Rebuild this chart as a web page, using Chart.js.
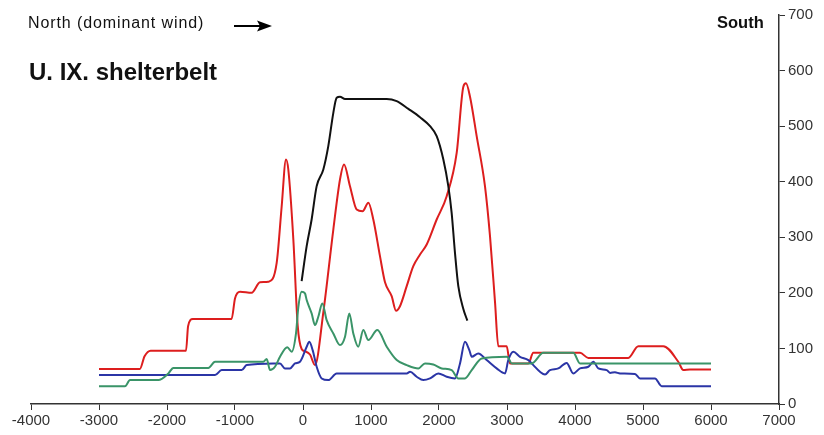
<!DOCTYPE html>
<html>
<head>
<meta charset="utf-8">
<script src="https://cdn.jsdelivr.net/npm/chart.js@4/dist/chart.umd.min.js"></script>
<style>
  html, body { margin: 0; padding: 0; background: #fff; }
</style>
</head>
<body>
<canvas id="chart" width="824" height="435"></canvas>
<script>
// distance (m) and values, one pair of arrays per curve
const redX = [-3000, -2400, -2330, -2240, -1720, -1690, -1620, -1050, -1000, -926, -755, -632, -510, -387, -314, -250, -216, -142, -78, -20, 29, 103, 176, 299, 446, 544, 603, 691, 789, 877, 961, 1034, 1132, 1206, 1304, 1368, 1426, 1525, 1622, 1721, 1819, 1966, 2113, 2260, 2358, 2397, 2456, 2554, 2676, 2750, 2824, 2872, 2995, 3044, 3314, 3387, 4074, 4196, 4784, 4931, 5299, 5519, 5593, 5691, 6000];
const redY = [63, 63, 86, 96, 96, 140, 153, 153, 190, 202, 200, 219, 220, 254, 355, 440, 422, 296, 141, 99, 95, 89, 70, 165, 314, 404, 431, 392, 350, 347, 362, 332, 266, 219, 194, 168, 176, 212, 248, 269, 287, 332, 374, 452, 571, 577, 553, 482, 392, 302, 183, 104, 104, 73, 73, 92, 92, 83, 83, 104, 104, 76, 61, 62, 62];

const blackX = [-20, 54, 127, 201, 299, 372, 446, 495, 544, 618, 1231, 1378, 1550, 1721, 1868, 1966, 2064, 2137, 2186, 2235, 2284, 2358, 2417];
const blackY = [221, 284, 332, 392, 422, 464, 524, 551, 553, 549, 549, 545, 531, 516, 500, 482, 440, 392, 344, 272, 212, 171, 150];

const greenX = [-3000, -2618, -2544, -2127, -1980, -1907, -1392, -1294, -584, -534, -485, -412, -338, -231, -166, -103, -69, -20, 29, 54, 127, 176, 225, 284, 348, 446, 544, 618, 681, 740, 813, 887, 961, 1093, 1231, 1378, 1525, 1696, 1794, 1916, 2040, 2186, 2284, 2382, 2481, 2628, 2995, 3019, 3069, 3363, 3534, 3975, 4074, 6000];
const greenY = [32, 32, 43, 43, 55, 65, 65, 76, 76, 81, 61, 67, 85, 102, 94, 127, 174, 202, 199, 187, 163, 142, 157, 181, 151, 127, 106, 121, 163, 127, 103, 133, 115, 133, 103, 79, 70, 64, 73, 71, 64, 61, 46, 46, 61, 82, 85, 83, 73, 73, 92, 92, 73, 73];

const blueX = [-3000, -1294, -1196, -902, -828, -437, -338, -265, -191, -118, -44, 54, 93, 142, 201, 275, 372, 495, 1525, 1574, 1672, 1769, 1868, 1990, 2113, 2235, 2309, 2382, 2446, 2481, 2578, 2701, 2848, 2971, 3019, 3093, 3191, 3314, 3387, 3485, 3559, 3632, 3754, 3877, 3975, 4074, 4196, 4270, 4343, 4466, 4515, 4588, 4662, 4882, 4956, 5176, 5275, 6000];
const blueY = [52, 52, 61, 61, 70, 73, 73, 64, 64, 73, 76, 103, 112, 97, 67, 46, 43, 55, 55, 58, 49, 43, 46, 55, 49, 46, 73, 112, 97, 85, 91, 79, 64, 55, 79, 94, 85, 79, 70, 58, 53, 61, 64, 74, 55, 64, 67, 76, 64, 61, 56, 57, 55, 54, 46, 46, 32, 32];

const xTicks = { min: -4000, max: 7000, step: 1000 };
const yTicks = { min: 0, max: 700, step: 100 };

function toPoints(xs, ys) {
    return xs.map((x, i) => ({ x: x, y: ys[i] }));
}

function makeSet(xs, ys, color) {
    return {
        data: toPoints(xs, ys),
        borderColor: color,
        borderWidth: 2,
        pointRadius: 0,
        fill: false,
        cubicInterpolationMode: 'monotone'
    };
}

const tickFont = { family: "'Liberation Sans', Arial, sans-serif", size: 15 };

// titles and the wind arrow
const textPlugin = {
    id: 'texts',
    afterDraw(chart) {
        const ctx = chart.ctx;
        ctx.save();
        ctx.fillStyle = '#111';
        ctx.textBaseline = 'alphabetic';
        ctx.textAlign = 'left';
        ctx.font = "16px 'Liberation Sans', Arial, sans-serif";
        ctx.letterSpacing = '0.9px';
        ctx.fillText('North (dominant wind)', 28, 28);
        ctx.letterSpacing = '0px';
        ctx.font = "bold 24px 'Liberation Sans', Arial, sans-serif";
        ctx.fillText('U. IX. shelterbelt', 29, 80);
        ctx.font = "bold 16.5px 'Liberation Sans', Arial, sans-serif";
        ctx.fillText('South', 717, 28);

        ctx.strokeStyle = '#000';
        ctx.lineWidth = 2;
        ctx.beginPath();
        ctx.moveTo(234, 26);
        ctx.lineTo(262, 26);
        ctx.stroke();
        ctx.fillStyle = '#000';
        ctx.beginPath();
        ctx.moveTo(272, 26);
        ctx.lineTo(257, 20.5);
        ctx.lineTo(260, 26);
        ctx.lineTo(257, 31.5);
        ctx.closePath();
        ctx.fill();
        ctx.restore();
    }
};

new Chart(document.getElementById('chart'), {
    type: 'line',
    data: {
        datasets: [
            makeSet(blackX, blackY, '#111111'),
            makeSet(greenX, greenY, '#3a9468'),
            makeSet(blueX, blueY, '#2b35a6'),
            makeSet(redX, redY, '#dd1e1e')
        ]
    },
    options: {
        responsive: false,
        animation: false,
        layout: { padding: { left: 31, top: 15, right: 0, bottom: 0 } },
        plugins: {
            legend: { display: false },
            tooltip: { enabled: false }
        },
        scales: {
            x: {
                type: 'linear',
                min: xTicks.min,
                max: xTicks.max,
                afterFit: (scale) => { scale.height = 31; },
                ticks: { stepSize: xTicks.step, color: '#333', font: tickFont, padding: 2, maxRotation: 0,
                         callback: (v) => String(v) },
                grid: { drawOnChartArea: false, drawTicks: true, tickLength: 6, color: '#333' },
                border: { color: '#333', width: 1.5 }
            },
            y: {
                position: 'right',
                min: yTicks.min,
                max: yTicks.max,
                afterFit: (scale) => { scale.width = 45; },
                ticks: { stepSize: yTicks.step, color: '#333', font: tickFont, padding: 3,
                         callback: (v) => String(v) },
                grid: { drawOnChartArea: false, drawTicks: true, tickLength: 6, color: '#333' },
                border: { color: '#333', width: 1.5 }
            }
        }
    },
    plugins: [textPlugin]
});
</script>
</body>
</html>
